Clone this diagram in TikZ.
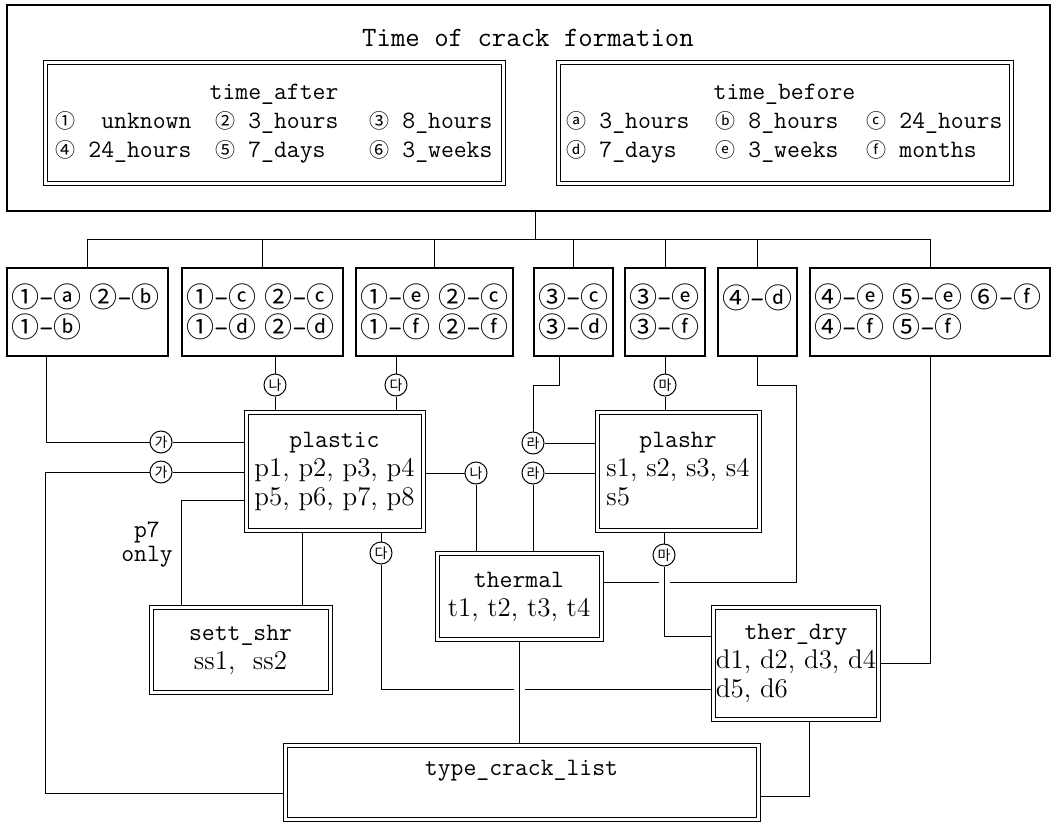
\documentclass[tikz,border=0pt]{standalone}
\usepackage{fontspec}
\newfontfamily\kor{Noto Sans CJK KR}
\usetikzlibrary{positioning,backgrounds}
\newcommand{\cg}[1]{{\kor\fontsize{10}{10}\selectfont #1}}
\newcommand{\pr}[2]{{\kor\fontsize{14}{15}\selectfont #1}-{\kor\fontsize{14}{15}\selectfont #2}}
\newcommand{\listbox}[2]{\begin{tabular}{@{}l@{}}\multicolumn{1}{@{}c@{}}{\ttfamily\fontsize{12.5}{14.5}\selectfont #1}\\#2\end{tabular}}

\begin{document}
\begin{tikzpicture}[x=0.5pt,y=-0.5pt,line width=.6pt,
  frame/.style={draw,fill=white,inner sep=0pt},
  dbl/.style={draw,line width=.5pt,double,double distance=1.5pt,fill=white,inner sep=1pt},
  pair/.style={draw,fill=white,minimum height=44pt,inner sep=2pt,align=left,
    font=\ttfamily\fontsize{14}{15}\selectfont},
  kc/.style={circle,draw,line width=.5pt,fill=white,inner sep=0pt,minimum size=11pt,
    font=\kor\fontsize{7}{7}\selectfont},
  lbl/.style={font=\ttfamily\fontsize{12.5}{14.5}\selectfont},
  lst/.style={font=\rmfamily\fontsize{13.5}{14.5}\selectfont},
  jump/.style={preaction={draw=white,line width=5.5pt}}]
\useasboundingbox (0,0) rectangle (1056,825);

% time of crack formation
\node[frame,minimum width=521.5pt,minimum height=103pt] (frame) at (528.5,108) {};
\node[font=\ttfamily\fontsize{14}{16}\selectfont] (title) at (528,38) {Time of crack formation};
\node[dbl,lbl,minimum width=229pt,minimum height=60.5pt] (after) at (274,122.5) {%
  \begin{tabular}{@{}p{80pt}@{}p{77pt}@{}l@{}}
  \multicolumn{3}{c}{time\_after}\\
  \cg{①}~~unknown & \cg{②} 3\_hours & \cg{③} 8\_hours\\
  \cg{④} 24\_hours & \cg{⑤} 7\_days & \cg{⑥} 3\_weeks
  \end{tabular}};
\node[dbl,lbl,minimum width=226.5pt,minimum height=60.5pt] (before) at (784.5,122.5) {%
  \begin{tabular}{@{}p{74.5pt}@{}p{75.5pt}@{}l@{}}
  \multicolumn{3}{c}{time\_before}\\
  \cg{ⓐ} 3\_hours & \cg{ⓑ} 8\_hours & \cg{ⓒ} 24\_hours\\
  \cg{ⓓ} 7\_days & \cg{ⓔ} 3\_weeks & \cg{ⓕ} months
  \end{tabular}};

% combinations
\node[pair,text width=76.5pt] (b1) at (87.5,312) {\pr{①}{ⓐ}\hspace{4pt}\pr{②}{ⓑ}\\\pr{①}{ⓑ}};
\node[pair,text width=76.5pt] (b2) at (262.5,312) {\pr{①}{ⓒ}\hspace{4pt}\pr{②}{ⓒ}\\\pr{①}{ⓓ}\hspace{4pt}\pr{②}{ⓓ}};
\node[pair,text width=74.5pt] (b3) at (434.5,312) {\pr{①}{ⓔ}\hspace{4pt}\pr{②}{ⓒ}\\\pr{①}{ⓕ}\hspace{4pt}\pr{②}{ⓕ}};
\node[pair,text width=35.5pt] (b4) at (573.5,312) {\pr{③}{ⓒ}\\\pr{③}{ⓓ}};
\node[pair,text width=36pt] (b5) at (665,312) {\pr{③}{ⓔ}\\\pr{③}{ⓕ}};
\node[pair,text width=35.5pt] (b6) at (757.5,312) {\pr{④}{ⓓ}\\\mbox{}};
\node[pair,text width=116pt] (b7) at (930,312)
  {\pr{④}{ⓔ}\hspace{4pt}\pr{⑤}{ⓔ}\hspace{4pt}\pr{⑥}{ⓕ}\\\pr{④}{ⓕ}\hspace{4pt}\pr{⑤}{ⓕ}};

% crack types
\node[dbl,lst,minimum width=88.5pt,minimum height=59pt] (plastic) at (334.5,471)
  {\listbox{plastic}{p1, p2, p3, p4\\p5, p6, p7, p8}};
\node[dbl,lst,minimum width=81pt,minimum height=59pt] (plashr) at (678,471)
  {\listbox{plashr}{s1, s2, s3, s4\\s5}};
\node[dbl,lst,minimum width=82pt,minimum height=43pt] (thermal) at (519,596)
  {\listbox{thermal}{t1, t2, t3, t4}};
\node[dbl,lst,align=center,minimum width=89.5pt,minimum height=42.5pt] (sett) at (240.5,649.5)
  {{\ttfamily\fontsize{12.5}{14.5}\selectfont sett\_shr}\\ss1,~~ss2};
\node[dbl,lst,minimum width=81pt,minimum height=56pt] (therdry) at (796,663)
  {\listbox{ther\_dry}{d1, d2, d3, d4\\d5, d6}};
\node[dbl,lbl,align=center,minimum width=236.5pt,minimum height=37pt] (tcl) at (521.5,782)
  {type\_crack\_list\\\mbox{}};
\node[lbl,align=center,font=\ttfamily\fontsize{12.5}{12}\selectfont] (p7) at (147,545) {p7\\only};

% circled marks
\node[kc] (ka1) at (161,442) {가};
\node[kc] (ka2) at (161,472) {가};
\node[kc] (kn1) at (275,385) {나};
\node[kc] (kd1) at (396,385) {다};
\node[kc] (kn2) at (476,473) {나};
\node[kc] (kd2) at (381,553) {다};
\node[kc] (kr1) at (533,443) {라};
\node[kc] (kr2) at (533,473) {라};
\node[kc] (km1) at (665,385) {마};
\node[kc] (km2) at (664,555) {마};

\begin{scope}[on background layer]
\coordinate (bus) at (535,239);
\draw (frame.south -| bus) -- (bus);
\draw (b1.north |- bus) -- (b7.north |- bus);
\foreach \b in {b1,b2,b3,b4,b5,b6,b7} \draw (\b.north) -- (\b.north |- bus);

\draw (b1.south -| 46,0) |- (ka1) -- (ka1 -| plastic.west);
\draw (plastic.west |- ka2) -- (ka2) -| (45,793) -- (tcl.west |- 0,793);
\draw (b2.south -| kn1) -- (kn1) -- (kn1 |- plastic.north);
\draw (b3.south -| kd1) -- (kd1) -- (kd1 |- plastic.north);
\draw (plastic.east |- kn2) -- (kn2) -- (kn2 |- thermal.north);
\draw (plastic.west |- 0,500) -| (sett.north -| 181,0);
\draw (plastic.south -| 302,0) -- (sett.north -| 302,0);
\draw (plastic.south -| kd2) -- (kd2) |- (therdry.west |- 0,689);
\draw (b4.south -| 559,0) |- (kr1 |- 0,385) -- (kr1) -- (kr1 -| plashr.west);
\draw (plashr.west |- kr2) -- (kr2) -- (kr2 |- thermal.north);
\draw (b5.south) -- (km1) -- (km1 |- plashr.north);
\draw (b6.south) |- (796,385) |- (thermal.east |- 0,582);
\draw (plashr.south -| km2) -- (km2);
\draw[jump] (km2) |- (therdry.west |- 0,636);
\draw (b7.south) |- (therdry.east);
\draw (therdry.south -| 809,0) |- (tcl.east |- 0,796);
\draw[jump] (thermal.south) -- (thermal.south |- tcl.north);
\end{scope}
\end{tikzpicture}
\end{document}
